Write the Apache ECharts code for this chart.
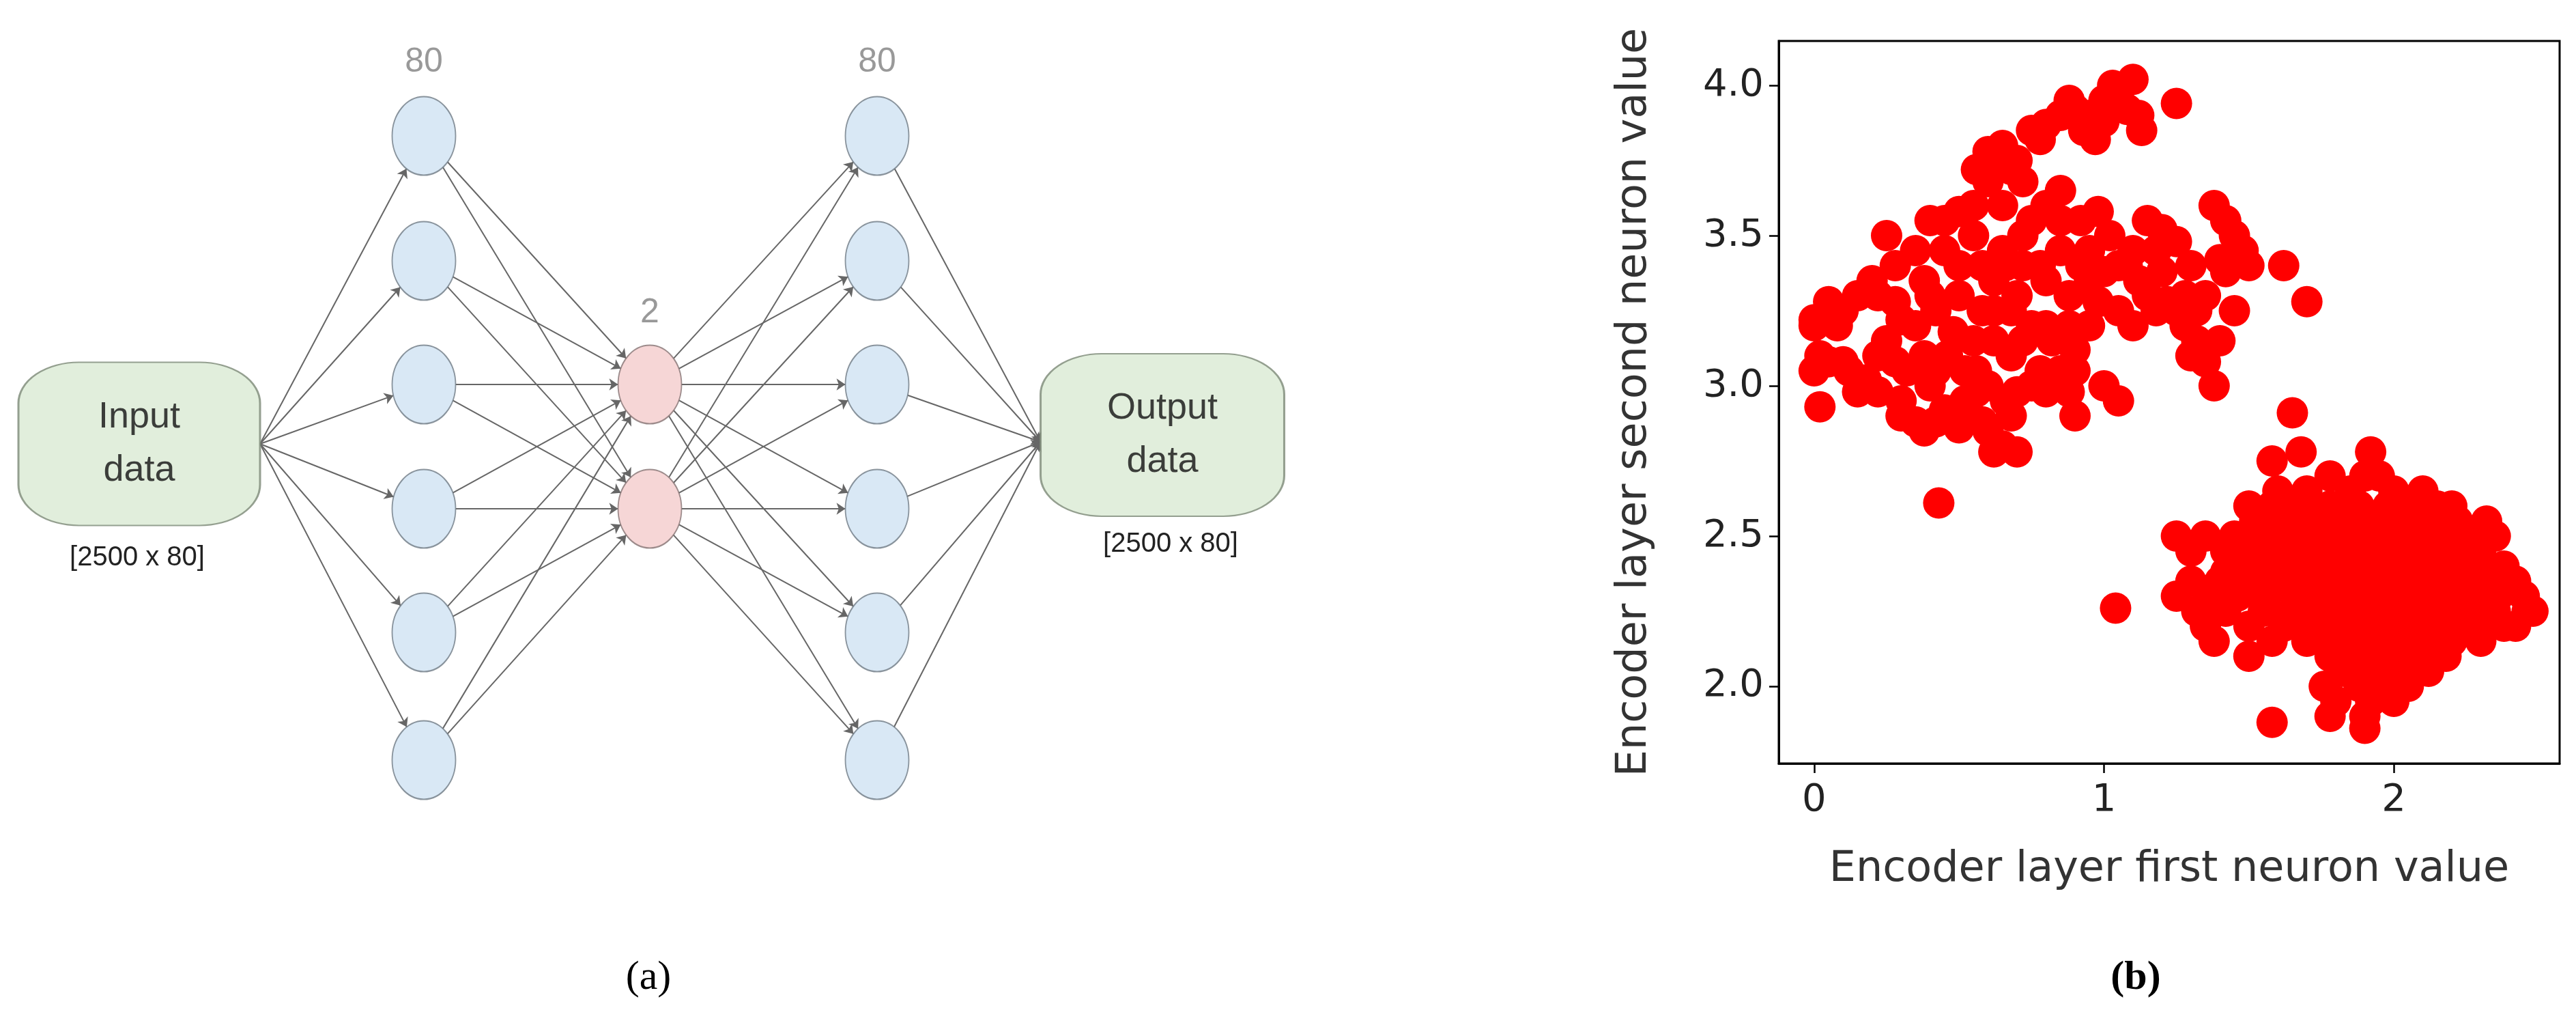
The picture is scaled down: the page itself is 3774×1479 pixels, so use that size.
<!DOCTYPE html><html><head><meta charset="utf-8">
<script src="https://cdn.jsdelivr.net/npm/echarts@6/dist/echarts.min.js"></script>
<style>html,body{margin:0;background:#fff}#c{width:3774px;height:1479px}</style></head><body><div id="c"></div>
<script>
// ---- diagram layout (pixel space of the figure) ----
const layerX = [621, 952, 1285];
const rowY = [199, 382, 563, 745, 926, 1113];
const midRows = [2, 3];
const inputBox = [204, 650, 354, 239];
const outputBox = [1703, 637, 357, 238];
const layerLabels = ['80', '2', '80'];
// ---- scatter data ----
const clusterA = [
[0.6,3.78],[0.65,3.8],[0.7,3.75],[0.75,3.85],[0.8,3.87],[0.85,3.9],[0.9,3.92],[0.95,3.9],[1.0,3.95],[1.05,3.97],[1.1,4.02],[1.08,3.92],[1.0,3.88],[0.93,3.85],[1.12,3.9],[1.25,3.94],[0.68,3.72],[0.72,3.68],[0.62,3.76],[0.78,3.82],[0.88,3.95],[1.03,4.0],[1.13,3.85],[0.97,3.82],
[0.0,3.2],[0.0,3.22],[0.02,3.1],[0.0,3.05],[0.02,2.93],[0.1,3.08],[0.1,3.25],[0.15,3.3],[0.2,3.35],[0.18,3.02],[0.22,2.98],[0.25,3.5],[0.28,3.28],[0.3,3.22],[0.32,3.05],[0.35,2.88],[0.38,2.85],[0.4,3.0],[0.42,3.25],[0.45,3.45],[0.45,3.55],[0.48,3.18],[0.5,3.3],[0.5,2.9],[0.52,3.05],[0.55,3.6],[0.55,3.15],[0.58,3.4],[0.6,3.0],[0.6,2.85],[0.62,3.25],[0.65,2.8],[0.65,3.45],[0.68,3.1],[0.7,3.3],[0.7,2.78],[0.72,3.5],[0.75,3.2],[0.75,3.0],[0.78,3.4],[0.8,3.6],[0.8,3.35],[0.82,3.15],[0.85,3.45],[0.85,3.55],[0.88,3.3],[0.9,3.05],[0.9,2.9],[0.92,3.4],[0.95,3.2],[0.95,3.45],[1.0,3.38],[1.0,3.0],[1.05,2.95],[1.05,3.25],[1.1,3.2],[1.12,3.35],[1.15,3.55],[1.18,3.45],[1.2,3.52],[1.22,3.28],[1.25,3.25],[1.28,3.2],[1.3,3.1],[1.32,3.15],[1.35,3.3],[1.38,3.6],[1.4,3.42],[1.42,3.55],[1.45,3.5],[1.48,3.45],[1.5,3.4],[1.35,3.08],[1.38,3.0],[1.62,3.4],[1.7,3.28],[1.28,3.3],[0.3,2.95],[0.38,3.1],[0.25,3.15],[0.12,3.05],[0.05,3.08],[0.15,2.98],[0.58,2.88],[0.52,2.95],[0.7,2.98],[0.78,3.05],[0.95,3.35],[1.02,3.5],[0.65,3.6],[0.4,3.3],[0.35,3.2],[0.55,3.5],[0.62,3.35],[0.88,3.2],[1.15,3.3],[1.08,3.4],[0.45,2.92],[0.5,2.86],[0.62,2.78],[0.68,2.9],
[0.56,3.72],[0.6,3.68],[0.5,3.58],[0.4,3.55],[0.35,3.45],[0.28,3.4],[0.22,3.3],[0.08,3.2],[0.05,3.28],[0.38,3.35],[0.5,3.4],[0.58,3.25],[0.66,3.4],[0.72,3.4],[0.75,3.55],[0.68,3.25],[0.62,3.15],[0.56,3.05],[0.46,3.1],[0.42,3.05],[0.28,3.08],[0.22,3.1],[0.3,2.9],[0.42,2.88],[0.56,2.98],[0.66,2.95],[0.8,2.98],[0.85,3.05],[0.8,3.2],[0.9,3.12],[0.98,3.28],[1.05,3.4],[1.1,3.45],[0.92,3.55],[0.98,3.58],[0.85,3.65],[1.2,3.38],[1.25,3.48],[1.3,3.4],[1.42,3.38],[1.45,3.25],[1.4,3.15],[1.32,3.25],[1.18,3.25],[0.72,3.15],[0.88,2.98],
[0.43,2.61],[1.04,2.26],[1.65,2.91],[1.58,2.75]];
const clusterBRowY = [2.7,2.65,2.6,2.55,2.5,2.45,2.4,2.35,2.3,2.25,2.2,2.15,2.1,2.05,2.0,1.95,1.9,1.86];
const clusterBRowX = [
[1.78,1.9,1.95],[1.6,1.7,1.85,2.0,2.1],[1.5,1.58,1.68,1.78,1.88,1.98,2.08,2.15,2.2],
[1.52,1.62,1.72,1.82,1.92,2.02,2.12,2.22,2.32],[1.25,1.35,1.45,1.55,1.65,1.75,1.85,1.95,2.05,2.15,2.25,2.35],
[1.3,1.42,1.52,1.62,1.72,1.82,1.92,2.02,2.12,2.22,2.3],[1.48,1.58,1.68,1.78,1.88,1.98,2.08,2.18,2.28,2.38],
[1.3,1.4,1.5,1.6,1.7,1.8,1.9,2.0,2.1,2.2,2.3,2.4],[1.25,1.36,1.46,1.56,1.66,1.76,1.86,1.96,2.06,2.16,2.26,2.36,2.45],
[1.32,1.42,1.55,1.65,1.75,1.85,1.95,2.05,2.15,2.25,2.35,2.46],[1.35,1.5,1.62,1.72,1.82,1.92,2.02,2.12,2.22,2.32,2.42],
[1.38,1.58,1.7,1.8,1.9,2.0,2.1,2.2,2.3],[1.5,1.78,1.88,1.98,2.08,2.18],[1.82,1.92,2.02,2.12],[1.76,1.88,1.98,2.05],
[1.8,1.92,2.0],[1.78,1.9],[1.9]];
const clusterBExtra = [[1.58,1.88],[1.42,2.38],[2.38,2.2],[2.48,2.25],[2.3,2.52],[2.42,2.35],[1.68,2.78],[1.92,2.78]];
const xTicks = [0, 1, 2];
const yTicks = [2.0, 2.5, 3.0, 3.5, 4.0];

const scatterData = clusterA.slice();
clusterBRowY.forEach((y, i) => clusterBRowX[i].forEach(x => scatterData.push([x, y])));
clusterBExtra.forEach(p => scatterData.push(p));

const A = 46.5, B = 57.5;
function onEllipse(cx, cy, fx, fy) {
  const dx = fx - cx, dy = fy - cy;
  const t = 1 / Math.sqrt((dx / A) ** 2 + (dy / B) ** 2);
  return [cx + dx * t, cy + dy * t];
}
const edges = [];
const inR = [inputBox[0] + inputBox[2] / 2, inputBox[1]];
rowY.forEach(y => edges.push([inR, onEllipse(layerX[0], y, inR[0], inR[1])]));
rowY.forEach(y => midRows.forEach(m => {
  const ty = rowY[m];
  edges.push([onEllipse(layerX[0], y, layerX[1], ty), onEllipse(layerX[1], ty, layerX[0], y)]);
  edges.push([onEllipse(layerX[1], ty, layerX[2], y), onEllipse(layerX[2], y, layerX[1], ty)]);
}));
const outL = [outputBox[0] - outputBox[2] / 2, outputBox[1] + 10];
rowY.forEach(y => edges.push([onEllipse(layerX[2], y, outL[0], outL[1]), outL]));

const blueNodes = [], redNodes = [];
rowY.forEach(y => { blueNodes.push([layerX[0], y]); blueNodes.push([layerX[2], y]); });
midRows.forEach(m => redNodes.push([layerX[1], rowY[m]]));

const grayFont = 'Liberation Sans Narrow, Liberation Sans, Arial';
const chart = echarts.init(document.getElementById('c'));
const hid = { show: false };
const blackLine = { show: true, onZero: false, lineStyle: { color: '#000', width: 3 } };
chart.setOption({
  animation: false,
  grid: [
    { left: 2606, right: 24, top: 60, bottom: 361, show: true, borderColor: '#000', borderWidth: 3 },
    { left: 0, right: 0, top: 0, bottom: 0 }
  ],
  xAxis: [
    { type: 'value', min: -0.122, max: 2.572, splitLine: hid,
      axisLine: blackLine, axisTick: { show: true, inside: false, length: 14, lineStyle: { color: '#000', width: 2.5 }, customValues: xTicks },
      axisLabel: { customValues: xTicks, fontFamily: 'DejaVu Sans', fontSize: 56, color: '#222', margin: 26 },
      name: 'Encoder layer first neuron value', nameLocation: 'middle', nameGap: 125,
      nameTextStyle: { fontFamily: 'DejaVu Sans', fontSize: 62, color: '#333' } },
    { type: 'value', gridIndex: 1, min: 0, max: 3774, show: false }
  ],
  yAxis: [
    { type: 'value', min: 1.743, max: 4.148, splitLine: hid,
      axisLine: blackLine, axisTick: { show: true, inside: false, length: 14, lineStyle: { color: '#000', width: 2.5 }, customValues: yTicks },
      axisLabel: { customValues: yTicks, formatter: v => v.toFixed(1), fontFamily: 'DejaVu Sans', fontSize: 56, color: '#222', margin: 22 },
      name: 'Encoder layer second neuron value', nameLocation: 'middle', nameGap: 180,
      nameTextStyle: { fontFamily: 'DejaVu Sans', fontSize: 62, color: '#333' } },
    { type: 'value', gridIndex: 1, min: 0, max: 1479, inverse: true, show: false }
  ],
  series: [
    { type: 'scatter', data: scatterData, symbolSize: 46, itemStyle: { color: '#ff0000', opacity: 1 } },
    { type: 'lines', coordinateSystem: 'cartesian2d', xAxisIndex: 1, yAxisIndex: 1, z: 1,
      data: edges.map(e => ({ coords: e })), symbol: ['none', 'arrow'], symbolSize: 13,
      lineStyle: { color: '#666', width: 2, opacity: 1 } },
    { type: 'scatter', xAxisIndex: 1, yAxisIndex: 1, z: 3, data: blueNodes, symbol: 'circle', symbolSize: [93, 115],
      itemStyle: { color: '#cfe2f3', borderColor: '#6f7a85', borderWidth: 2 } },
    { type: 'scatter', xAxisIndex: 1, yAxisIndex: 1, z: 3, data: redNodes, symbol: 'circle', symbolSize: [93, 115],
      itemStyle: { color: '#f4cccc', borderColor: '#857373', borderWidth: 2 } },
    { type: 'scatter', xAxisIndex: 1, yAxisIndex: 1, z: 3, symbol: 'roundRect',
      data: [
        { value: [inputBox[0], inputBox[1]], symbolSize: [inputBox[2], inputBox[3]], label: { formatter: 'Input\ndata' } },
        { value: [outputBox[0], outputBox[1]], symbolSize: [outputBox[2], outputBox[3]], label: { formatter: 'Output\ndata' } }
      ],
      itemStyle: { color: '#d9ead3', borderColor: '#7d8a78', borderWidth: 2.5 },
      label: { show: true, position: 'inside', color: '#111', fontFamily: grayFont, fontSize: 54, lineHeight: 78 } }
  ],
  graphic: [
    { type: 'text', x: layerX[0], y: 91, style: { text: layerLabels[0], fill: '#999', font: '50px ' + grayFont, align: 'center', verticalAlign: 'middle' } },
    { type: 'text', x: layerX[1], y: 458, style: { text: layerLabels[1], fill: '#999', font: '50px ' + grayFont, align: 'center', verticalAlign: 'middle' } },
    { type: 'text', x: layerX[2], y: 91, style: { text: layerLabels[2], fill: '#999', font: '50px ' + grayFont, align: 'center', verticalAlign: 'middle' } },
    { type: 'text', x: 201, y: 817, style: { text: '[2500 x 80]', fill: '#222', font: '40px ' + grayFont, align: 'center', verticalAlign: 'middle' } },
    { type: 'text', x: 1715, y: 797, style: { text: '[2500 x 80]', fill: '#222', font: '40px ' + grayFont, align: 'center', verticalAlign: 'middle' } },
    { type: 'text', x: 950, y: 1432, style: { text: '(a)', fill: '#000', font: '60px Liberation Serif', align: 'center', verticalAlign: 'middle' } },
    { type: 'text', x: 3129, y: 1432, style: { text: '(b)', fill: '#000', font: 'bold 60px Liberation Serif', align: 'center', verticalAlign: 'middle' } }
  ]
});
</script></body></html>
